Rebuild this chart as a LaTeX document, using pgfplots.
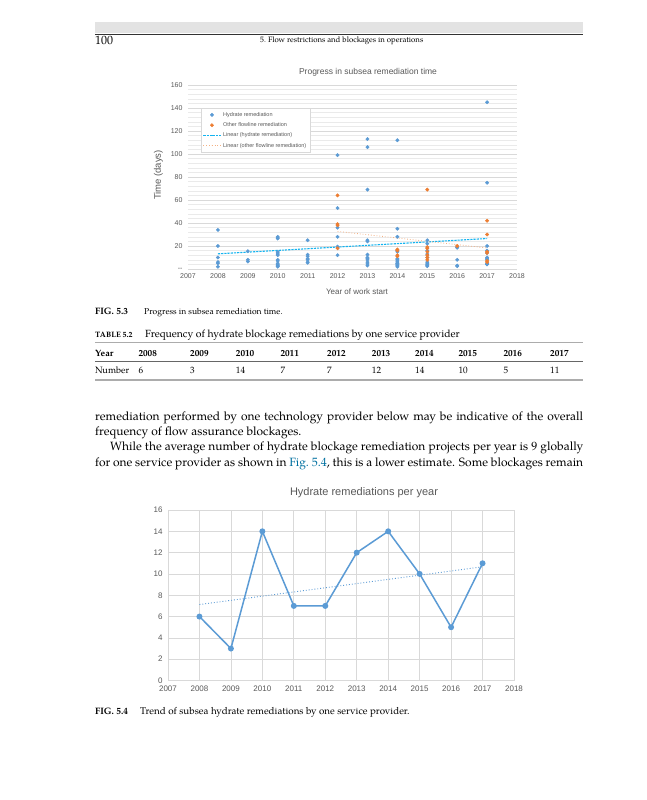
\documentclass[border=0pt]{standalone}
\usepackage{fontspec}
\setmainfont{TeX Gyre Pagella}
\newfontfamily\chartfont{Liberation Sans}
\usepackage{pgfplots}
\pgfplotsset{compat=1.18}
\definecolor{xlblue}{RGB}{91,155,213}
\definecolor{xlorange}{RGB}{237,125,49}
\definecolor{trendblue}{RGB}{20,180,240}
\definecolor{trendorange}{RGB}{244,177,131}
\definecolor{gridc}{RGB}{217,217,217}
\definecolor{txtgray}{RGB}{89,89,89}
\definecolor{linkblue}{RGB}{0,112,160}
\newcommand{\fsz}[1]{\fontsize{#1}{#1}\selectfont}
\begin{document}
\begin{tikzpicture}
\fill[white] (0,0) rectangle (647pt,-800pt);
% running head
\fill[gray!22] (95pt,-22.5pt) rectangle (583pt,-33.5pt);
\draw[black!80,line width=0.8pt] (95pt,-34.3pt) -- (583pt,-34.3pt);
\node[anchor=base west,inner sep=0] at (95pt,-44.5pt) {\fsz{12}100};
\node[anchor=base west,inner sep=0] at (260pt,-43pt) {\fsz{7.8}5.\ Flow restrictions and blockages in operations};

% ---------------- Chart 1 ----------------
\node[font=\chartfont\fsz{8.5},text=txtgray] at (368pt,-72.3pt) {Progress in subsea remediation time};
\node[rotate=90,font=\chartfont\fsz{9.5},text=txtgray] at (158.3pt,-175pt) {Time (days)};
\node[font=\chartfont\fsz{8},text=txtgray] at (357pt,-291.5pt) {Year of work start};
\begin{axis}[
  at={(188pt,-269pt)}, anchor=south west, scale only axis,
  width=329pt, height=184pt,
  xmin=2007, xmax=2018, ymin=0, ymax=160,
  xtick={2007,2008,2009,2010,2011,2012,2013,2014,2015,2016,2017,2018},
  xticklabels={2007,2008,2009,2010,2011,2012,2013,2014,2015,2016,2017,2018},
  ytick={0,20,40,60,80,100,120,140,160},
  yticklabels={--,20,40,60,80,100,120,140,160},
  minor y tick num=4,
  ymajorgrids, yminorgrids,
  major grid style={gridc,line width=0.6pt},
  minor grid style={gridc!55,line width=0.4pt},
  axis line style={draw=none},
  major tick length=0pt, minor tick length=0pt,
  tick style={draw=none},
  ticklabel style={font=\chartfont\fsz{7},text=txtgray},
  xticklabel style={yshift=-1.5pt},
  yticklabel style={xshift=-2pt},
  clip=false,
  legend style={at={(0.0386,0.875)},anchor=north west,draw=gridc,
    font=\chartfont\fsz{5.5},row sep=0.8pt,inner sep=2pt},
  legend cell align=left,
]
\addplot[only marks,mark=*,mark size=1.7pt,color=xlblue] coordinates {
 (2008,34) (2008,20) (2008,10) (2008,6) (2008,5) (2008,2)
 (2009,15.5) (2009,8) (2009,6.5)
 (2010,28) (2010,27) (2010,26.5) (2010,15) (2010,14) (2010,13) (2010,12) (2010,8) (2010,7) (2010,5) (2010,4) (2010,3) (2010,2.5) (2010,2)
 (2011,25) (2011,12.5) (2011,11) (2011,9) (2011,8) (2011,6) (2011,5.5)
 (2012,99) (2012,53) (2012,36) (2012,28) (2012,19.5) (2012,18.5) (2012,12)
 (2013,113) (2013,106) (2013,69) (2013,25) (2013,24) (2013,12.5) (2013,10) (2013,9) (2013,8) (2013,6) (2013,4.5) (2013,3)
 (2014,112) (2014,35) (2014,28) (2014,16) (2014,15) (2014,9) (2014,8) (2014,7) (2014,6) (2014,5) (2014,4.5) (2014,4) (2014,3) (2014,2)
 (2015,25) (2015,22) (2015,16) (2015,13) (2015,10) (2015,6) (2015,5) (2015,4) (2015,3) (2015,2.5)
 (2016,19) (2016,18.5) (2016,8) (2016,3) (2016,2.5)
 (2017,145) (2017,75) (2017,20) (2017,16) (2017,14) (2017,10) (2017,9) (2017,8) (2017,5) (2017,4) (2017,4.3)
};
\addlegendentry{\textcolor{txtgray}{Hydrate remediation}}
\addplot[only marks,mark=*,mark size=1.7pt,color=xlorange] coordinates {
 (2012,64) (2012,39) (2012,38) (2012,18)
 (2014,17) (2014,16) (2014,12) (2014,11)
 (2015,69) (2015,19) (2015,18) (2015,15) (2015,12) (2015,10) (2015,8)
 (2016,20)
 (2017,42) (2017,30) (2017,15) (2017,14) (2017,7) (2017,6)
};
\addlegendentry{\textcolor{txtgray}{Other flowline remediation}}
\addplot[color=trendblue,line width=1.1pt,dash pattern=on 2.2pt off 1pt] coordinates {(2008,13.2) (2017,26.5)};
\addlegendentry{\textcolor{txtgray}{Linear (hydrate remediation)}}
\addplot[color=trendorange,line width=0.8pt,dotted] coordinates {(2012,32.7) (2017,18.3)};
\addlegendentry{\textcolor{txtgray}{Linear (other flowline remediation)}}
\end{axis}

% captions and table
\node[anchor=base west,inner sep=0] at (95pt,-314.5pt) {\fsz{9.3}\textbf{FIG. 5.3}};
\node[anchor=base west,inner sep=0] at (144pt,-314.5pt) {\fsz{8.5}Progress in subsea remediation time.};
\node[anchor=base west,inner sep=0] at (95pt,-337pt) {\fsz{7.8}\textbf{TABLE 5.2}};
\node[anchor=base west,inner sep=0] at (145pt,-337pt) {\fsz{10.4}Frequency of hydrate blockage remediations by one service provider};
\draw[gray!65,line width=1.3pt] (95pt,-342.7pt) -- (583pt,-342.7pt);
\draw[black!60,line width=0.4pt] (95pt,-360.7pt) -- (583pt,-360.7pt);
\draw[gray!65,line width=1.3pt] (95pt,-380pt) -- (583pt,-380pt);
\node[anchor=base west,inner sep=0] at (95pt,-356.3pt) {\fsz{9.2}\textbf{Year}};
\node[anchor=base west,inner sep=0] at (95pt,-373.8pt) {\fsz{9.2}Number};
\foreach \xx/\yr/\nn in {138.3/2008/6,190/2009/3,235.7/2010/14,280.3/2011/7,327/2012/7,371.7/2013/12,415/2014/14,458.3/2015/10,503.3/2016/5,550/2017/11}{
  \node[anchor=base west,inner sep=0] at (\xx pt,-356.3pt) {\fsz{9.2}\textbf{\yr}};
  \node[anchor=base west,inner sep=0] at (\xx pt,-373.8pt) {\fsz{9.2}\nn};
}

% body text
\node[anchor=base west,inner sep=0] at (95pt,-420.5pt) {\fsz{12}\makebox[488pt][s]{remediation performed by one technology provider below may be indicative of the overall}};
\node[anchor=base west,inner sep=0] at (95pt,-435.7pt) {\fsz{12}frequency of flow assurance blockages.};
\node[anchor=base west,inner sep=0] at (110pt,-450.9pt) {\fsz{12}\makebox[473pt][s]{While the average number of hydrate blockage remediation projects per year is 9 globally}};
\node[anchor=base west,inner sep=0] at (95pt,-466.1pt) {\fsz{12}\makebox[488pt][s]{for one service provider as shown in \textcolor{linkblue}{Fig.\ 5.4}, this is a lower estimate. Some blockages remain}};

% ---------------- Chart 2 ----------------
\node[font=\chartfont\fsz{11},text=txtgray] at (364pt,-492.3pt) {Hydrate remediations per year};
\begin{axis}[
  at={(168pt,-680.5pt)}, anchor=south west, scale only axis,
  width=346pt, height=170.5pt,
  xmin=2007, xmax=2018, ymin=0, ymax=16,
  xtick={2007,2008,2009,2010,2011,2012,2013,2014,2015,2016,2017,2018},
  xticklabels={2007,2008,2009,2010,2011,2012,2013,2014,2015,2016,2017,2018},
  ytick={0,2,4,6,8,10,12,14,16},
  yticklabels={0,2,4,6,8,10,12,14,16},
  grid=major,
  major grid style={gridc,line width=0.7pt},
  axis line style={gridc,line width=0.7pt},
  major tick length=0pt, tick style={draw=none},
  ticklabel style={font=\chartfont\fsz{8},text=txtgray},
  xticklabel style={yshift=-1.5pt},
  yticklabel style={xshift=-2pt},
  clip=false,
]
\addplot[xlblue,line width=1.5pt,mark=*,mark size=2.2pt] coordinates {
 (2008,6) (2009,3) (2010,14) (2011,7) (2012,7) (2013,12) (2014,14) (2015,10) (2016,5) (2017,11)
};
\addplot[xlblue,line width=0.9pt,dotted] coordinates {(2008,7.13) (2017,10.67)};
\end{axis}
\node[anchor=base west,inner sep=0] at (95pt,-714.5pt) {\fsz{9.3}\textbf{FIG. 5.4}};
\node[anchor=base west,inner sep=0] at (140pt,-714.5pt) {\fsz{9.8}Trend of subsea hydrate remediations by one service provider.};
\end{tikzpicture}
\end{document}
